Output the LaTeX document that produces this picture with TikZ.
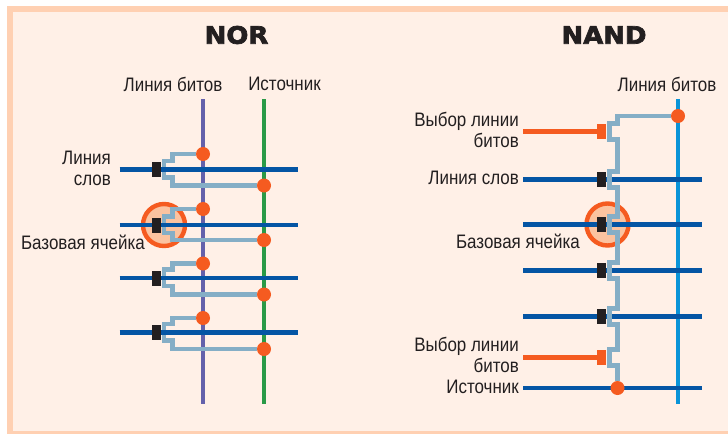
\documentclass[tikz,border=0pt]{standalone}
\usepackage{fontspec}
\usepackage{xcolor}
\usetikzlibrary{backgrounds}
\setmainfont{Liberation Sans}
\newfontfamily\labelfont[FakeStretch=0.87]{Liberation Sans}
\newfontfamily\titlefont[FakeStretch=1.08,FakeBold=3]{DejaVu Sans Bold}
\definecolor{paper}{HTML}{FFF0E7}
\definecolor{band}{HTML}{FFD0B2}
\definecolor{bitpurple}{HTML}{6461AB}
\definecolor{srcgreen}{HTML}{2A9A47}
\definecolor{bitcyan}{HTML}{0A94D8}
\definecolor{wordblue}{HTML}{0455A4}
\definecolor{chanblue}{HTML}{85AEC6}
\definecolor{hotorange}{HTML}{F55B20}
\definecolor{halo}{HTML}{FBC3A0}
\definecolor{inkblack}{HTML}{231F20}
\tikzset{
	contact/.style={circle, fill=hotorange, minimum size=14pt, inner sep=0pt},
	gate/.style={rectangle, fill=inkblack, minimum width=9.5pt, minimum height=15pt, inner sep=0pt},
	selgate/.style={gate, fill=hotorange},
	wordline/.style={draw=wordblue, line width=4.4pt},
	selline/.style={draw=hotorange, line width=4.4pt},
	bitline/.style={line width=4.6pt},
	channel/.style={draw=chanblue, line width=4.4pt, miter limit=4},
	cellmark/.style={circle, draw=hotorange, fill=halo, line width=4.4pt, minimum size=42pt, inner sep=0pt},
	lbl/.style={font=\labelfont\fontsize{19.5}{21}\selectfont, text=inkblack, inner sep=0pt, align=right},
	heading/.style={font=\titlefont\fontsize{24}{26}\selectfont, text=inkblack, inner sep=0pt}
}
\begin{document}
\begin{tikzpicture}[x=1pt, y=-1pt]
\useasboundingbox (0,0) rectangle (728,434);

% Titles
\node[heading] (titlenor) at (236.5,35) {NOR};
\node[heading] (titlenand) at (604,35) {NAND};

% NOR labels
\node[lbl] (norbit) at (173,84) {Линия битов};
\node[lbl] (norsrc) at (284.5,84) {Источник};
\node[lbl, anchor=east] (norword) at (111,168) {Линия\\слов};
\node[lbl, anchor=east] (norcell) at (145,242) {Базовая ячейка};

% NAND labels
\node[lbl] (nandbit) at (667,84) {Линия битов};
\node[lbl, anchor=east] (nandseltop) at (519,129.5) {Выбор линии\\битов};
\node[lbl, anchor=east] (nandword) at (519,178) {Линия слов};
\node[lbl, anchor=east] (nandcell) at (580,241) {Базовая ячейка};
\node[lbl, anchor=east] (nandselbot) at (519,355) {Выбор линии\\битов};
\node[lbl, anchor=east] (nandsrc) at (519,387) {Источник};

% NOR gates
\node[gate] (ga) at (156.5,169.5) {};
\node[gate] (gb) at (156.5,225) {};
\node[gate] (gc) at (156.5,278) {};
\node[gate] (gd) at (156.5,332.5) {};

% NOR contacts
\node[contact] (ba) at (203,154) {};
\node[contact] (sa) at (264,185.5) {};
\node[contact] (bb) at (203,209) {};
\node[contact] (sb) at (264,240) {};
\node[contact] (bc) at (203,263.5) {};
\node[contact] (sc) at (264,294.5) {};
\node[contact] (bd) at (203,318) {};
\node[contact] (sd) at (264,349) {};

% NAND gates
\node[selgate] (st) at (601.5,131.5) {};
\node[gate] (ge) at (601.5,179.5) {};
\node[gate] (gf) at (601.5,224.5) {};
\node[gate] (gg) at (601.5,270.5) {};
\node[gate] (gh) at (601.5,316.5) {};
\node[selgate] (sl) at (601.5,357.5) {};

% NAND contacts
\node[contact] (bn) at (678,116) {};
\node[contact] (sn) at (617.5,388) {};

\begin{scope}[on background layer]
% Sheet
\fill[band] (7,6) rectangle (728,434);
\fill[paper] (13,11.5) rectangle (728,431);

% Vertical lines
\coordinate (pt) at (203,99);
\coordinate (pb) at (203,404);
\coordinate (qt) at (264,99);
\coordinate (qb) at (264,404);
\coordinate (ct) at (678,99);
\coordinate (cb) at (678,404);
\draw[bitline, bitpurple] (pt) -- (pb);
\draw[bitline, srcgreen] (qt) -- (qb);
\draw[bitline, bitcyan] (ct) -- (cb);

% Marked cells
\node[cellmark] (marknor) at (164,225) {};
\node[cellmark] (marknand) at (607.5,224.5) {};

% NOR channels
\draw[channel] (ba) -- (172.5,154) -- (172.5,161) -- (164,161) -- (164,177.5) -- (172.5,177.5) -- (172.5,185.5) -- (sa);
\draw[channel] (bb) -- (172.5,209) -- (172.5,216.5) -- (164,216.5) -- (164,233) -- (172.5,233) -- (172.5,240) -- (sb);
\draw[channel] (bc) -- (172.5,263.5) -- (172.5,269.5) -- (164,269.5) -- (164,286) -- (172.5,286) -- (172.5,294.5) -- (sc);
\draw[channel] (bd) -- (172.5,318) -- (172.5,324) -- (164,324) -- (164,340.5) -- (172.5,340.5) -- (172.5,349) -- (sd);

% NOR word lines
\foreach \wy/\wn in {169.5/a, 225/b, 278/c, 332.5/d} {
	\coordinate (l\wn) at (119.5,\wy);
	\coordinate (r\wn) at (298,\wy);
	\draw[wordline] (l\wn) -- (r\wn);
}

% NAND word lines
\foreach \wy/\wn in {179.5/e, 224.5/f, 270.5/g, 316.5/h, 388/i} {
	\coordinate (l\wn) at (523,\wy);
	\coordinate (r\wn) at (702,\wy);
	\draw[wordline] (l\wn) -- (r\wn);
}

% NAND select lines
\coordinate (lst) at (523,131.5);
\coordinate (lsl) at (523,357.5);
\draw[selline] (lst) -- (st);
\draw[selline] (lsl) -- (sl);

% NAND channel
\draw[channel] (bn) -- (617.5,116) -- (617.5,123.5) -- (609.5,123.5) -- (609.5,139.5) -- (617.5,139.5)
	-- (617.5,171.5) -- (609.5,171.5) -- (609.5,187.5) -- (617.5,187.5)
	-- (617.5,216.5) -- (609.5,216.5) -- (609.5,232.5) -- (617.5,232.5)
	-- (617.5,262.5) -- (609.5,262.5) -- (609.5,278.5) -- (617.5,278.5)
	-- (617.5,308.5) -- (609.5,308.5) -- (609.5,324.5) -- (617.5,324.5)
	-- (617.5,349.5) -- (609.5,349.5) -- (609.5,365.5) -- (617.5,365.5) -- (sn);
\end{scope}
\end{tikzpicture}
\end{document}
